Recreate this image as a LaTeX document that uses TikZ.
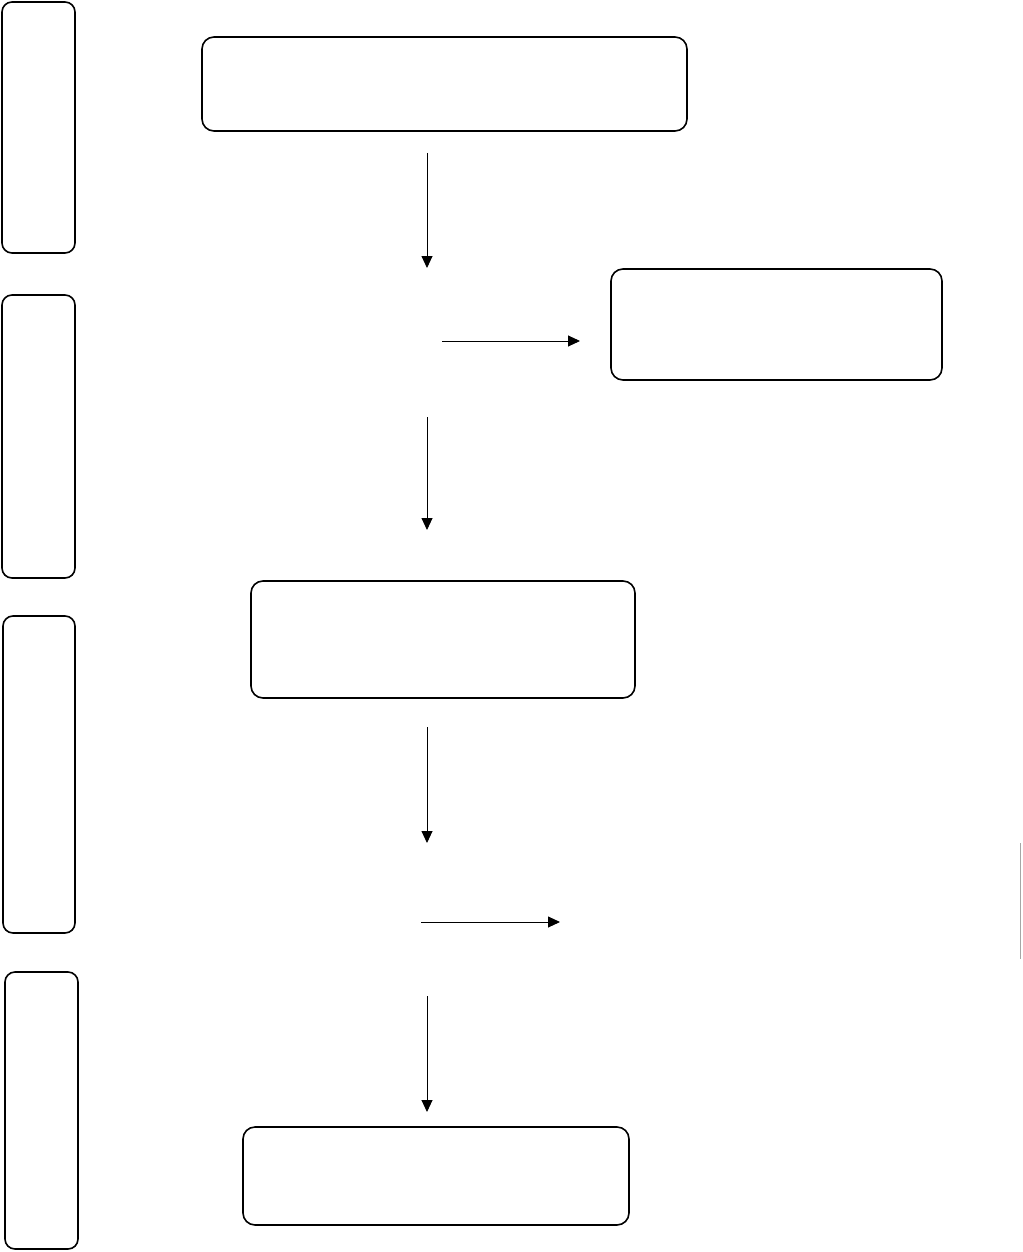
\documentclass[tikz,border=0pt]{standalone}
\usetikzlibrary{arrows.meta}

\begin{document}
\begin{tikzpicture}[
   x=1pt,y=-1pt,
   >={Triangle[length=12pt,width=11pt]},
   box/.style={draw,rounded corners=12pt,line width=1.6pt,inner sep=0pt},
   bar/.style={box,rounded corners=10pt},
   flow/.style={->,line width=0.9pt}
  ]
  \useasboundingbox (0,0) rectangle (1022,1252);

  % stage bars on the left
  \node[bar,minimum width=73pt,minimum height=251pt] (stageA) at (38.5,127.5) {};
  \node[bar,minimum width=73pt,minimum height=283pt] (stageB) at (38.5,436.5) {};
  \node[bar,minimum width=72pt,minimum height=317pt] (stageC) at (39,774.5) {};
  \node[bar,minimum width=73pt,minimum height=277pt] (stageD) at (41.5,1110.5) {};

  % main boxes
  \node[box,minimum width=485pt,minimum height=94pt]  (start)   at (444.5,84) {};
  \node[box,minimum width=331pt,minimum height=111pt] (side)    at (776.5,324.5) {};
  \node[box,minimum width=384pt,minimum height=117pt] (middle)  at (443,639.5) {};
  \node[box,minimum width=386pt,minimum height=98pt]  (finish)  at (436,1176) {};

  % arrow ends
  \coordinate (v1s) at (427,153);  \coordinate (v1e) at (427,268);
  \coordinate (h1s) at (442,341);  \coordinate (h1e) at (580,341);
  \coordinate (v2s) at (427,417);  \coordinate (v2e) at (427,530);
  \coordinate (v3s) at (427,727);  \coordinate (v3e) at (427,843);
  \coordinate (h2s) at (421,922);  \coordinate (h2e) at (560,922);
  \coordinate (v4s) at (427,996);  \coordinate (v4e) at (427,1112);

  \draw[flow] (v1s) -- (v1e);
  \draw[flow] (h1s) -- (h1e);
  \draw[flow] (v2s) -- (v2e);
  \draw[flow] (v3s) -- (v3e);
  \draw[flow] (h2s) -- (h2e);
  \draw[flow] (v4s) -- (v4e);

  % cut-off edge at the right
  \draw[gray!70,line width=1.5pt] (1020.5,843) -- (1020.5,959);
\end{tikzpicture}
\end{document}
